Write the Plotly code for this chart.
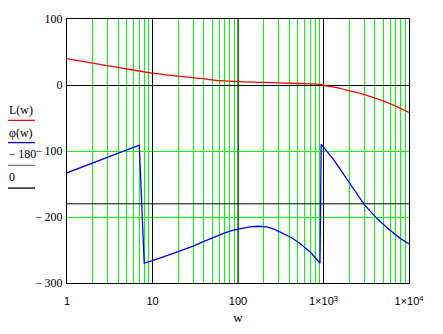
import plotly.graph_objects as go

# ---- data ----
w_L = [1, 2, 3.45, 10, 20, 36, 62, 100, 200, 500, 900, 1040, 1560, 2030, 3000, 4600, 6900, 10000]
L_vals = [40, 33, 28, 18, 13.5, 10, 6.5, 5, 4, 2.3, 0.8, -1, -5, -9, -14.5, -22.5, -31.5, -41.5]

w_phi = [1, 2, 3, 4, 5, 6, 7, 8, 9, 10, 15, 22.7, 30, 40, 56, 70, 88, 110, 138, 170, 216, 260, 336,
         420, 530, 700, 910,
         940, 1295, 2040, 2990, 4200, 5500, 7800, 10000]
phi_vals = [-133, -118, -109, -103, -98, -94, -91, -270, -268, -266, -258, -250, -244, -237, -229, -224,
            -220, -217, -215, -214, -215, -218, -225, -231, -240, -253, -270,
            -90, -112, -150, -181, -202, -216, -232, -241]

ref_level = -180
decades = [10, 100, 1000]

x_ticks = [1, 10, 100, 1000, 10000]
x_ticktext = ["1", "10", "100", "1×10<sup>3</sup>", "1×10<sup>4</sup>"]
y_ticks = [-300, -200, -100, 0, 100]
y_ticktext = ["−\u2009300", "−\u2009200", "−\u2009100", "0", "100"]

legend_labels = ["L(w)", "φ(w)", "−\u2009180", "0"]
legend_colors = ["#ff0000", "#0000ff", "#808080", "#000000"]

GREEN = "#00ff00"

grid_x = []
for d in [1, 10, 100, 1000]:
    for k in range(1, 10):
        grid_x.append(k * d)
grid_x.append(10000)

fig = go.Figure()

for d in decades:
    fig.add_trace(go.Scatter(x=[d, d], y=[-300, 100], mode="lines",
                             line=dict(color="black", width=1), hoverinfo="skip", showlegend=False))
fig.add_trace(go.Scatter(x=[1, 10000], y=[ref_level, ref_level], mode="lines",
                         line=dict(color="black", width=1), hoverinfo="skip", showlegend=False))

fig.add_trace(go.Scatter(x=w_L, y=L_vals, mode="lines", line=dict(color="#ff0000", width=1.3),
                         line_shape="spline", showlegend=False))
fig.add_trace(go.Scatter(x=w_phi, y=phi_vals, mode="lines", line=dict(color="#0000ff", width=1.3),
                         showlegend=False))

fig.update_xaxes(type="log", range=[0, 4], tickmode="array", tickvals=grid_x,
                 ticktext=[x_ticktext[x_ticks.index(v)] if v in x_ticks else "" for v in grid_x],
                 showgrid=True, gridcolor=GREEN, gridwidth=1,
                 showline=True, linecolor="black", linewidth=1, mirror=True,
                 ticks="", ticklabelstandoff=8,
                 tickfont=dict(family="Liberation Sans, Arial", size=11, color="black"),
                 title=dict(text="w", font=dict(family="Liberation Serif", size=13, color="black"), standoff=6),
                 zeroline=False)
fig.update_yaxes(range=[-300, 100], tickmode="array", tickvals=y_ticks, ticktext=y_ticktext,
                 showgrid=True, gridcolor=GREEN, gridwidth=1,
                 zeroline=True, zerolinecolor="black", zerolinewidth=1,
                 showline=True, linecolor="black", linewidth=1, mirror=True,
                 ticks="", ticklabelstandoff=1,
                 tickfont=dict(family="Liberation Serif, Times New Roman", size=12, color="black"))

L_px, T_px, W_px, H_px = 67, 18, 342, 267
def px(xp): return (xp - L_px) / W_px
def py(yp): return (T_px + H_px - yp) / H_px

text_y = [110, 133, 155, 178]
line_y = [120.5, 143, 166, 189]
for lab, col, ty, ly in zip(legend_labels, legend_colors, text_y, line_y):
    fig.add_annotation(x=px(7), y=py(ty), xref="paper", yref="paper", text=lab, showarrow=False,
                       xanchor="left", yanchor="middle",
                       font=dict(family="Liberation Serif, Times New Roman", size=12, color="black"))
    fig.add_shape(type="line", xref="paper", yref="paper", x0=px(8), x1=px(35), y0=py(ly), y1=py(ly),
                  line=dict(color=col, width=1.3))

fig.update_layout(width=443, height=334, margin=dict(l=67, r=34, t=18, b=49),
                  plot_bgcolor="white", paper_bgcolor="white", showlegend=False)

fig.write_html("out.html")
